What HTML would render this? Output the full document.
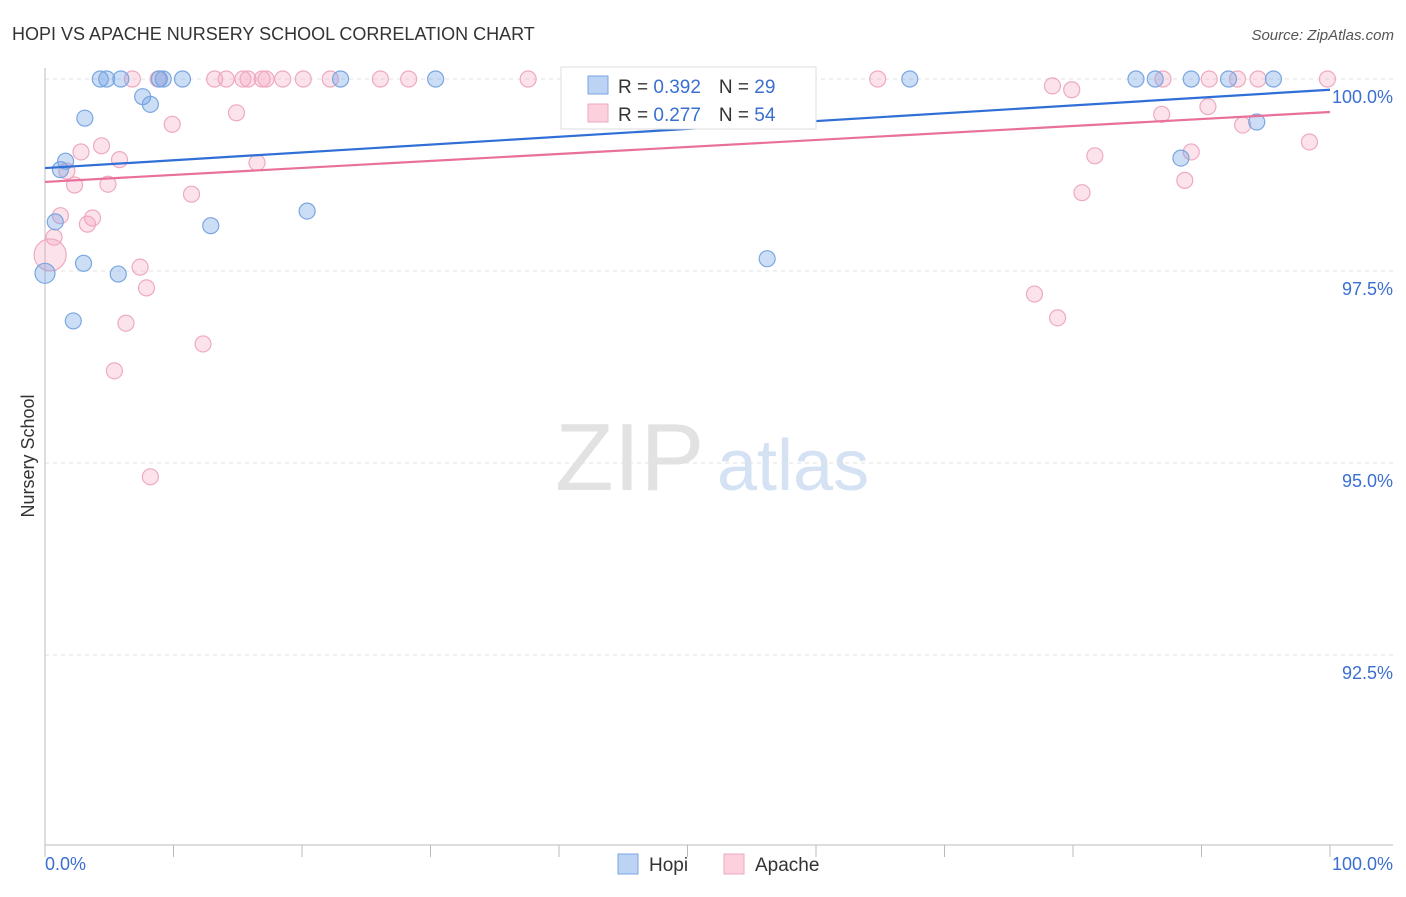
<!DOCTYPE html>
<html><head><meta charset="utf-8"><style>
body{margin:0;background:#fff;font-family:"Liberation Sans",sans-serif;}
svg text{font-family:"Liberation Sans",sans-serif;}
</style></head><body>
<svg id="chart" width="1406" height="892" xmlns="http://www.w3.org/2000/svg">
<text x="12" y="40" font-size="18" fill="#333">HOPI VS APACHE NURSERY SCHOOL CORRELATION CHART</text>
<text x="1394" y="40" font-size="15" fill="#555" font-style="italic" text-anchor="end">Source: ZipAtlas.com</text>
<g>
<text x="555" y="490" font-size="96" fill="#e2e2e2" font-family="Liberation Serif,serif">ZIP</text>
<text x="717" y="490" font-size="72" fill="#d4e2f4">atlas</text>
</g>
<g id="grid"></g>
<g id="axes"></g>
<text x="34" y="456" font-size="18" fill="#333" text-anchor="middle" transform="rotate(-90 34 456)">Nursery School</text>
<g id="pts"></g>
<g id="lines"></g>
<g>
<rect x="561" y="67" width="255" height="62" fill="#fff" stroke="#ddd"/>
<rect x="588" y="76" width="20" height="18" fill="#bcd3f3" stroke="#7aa6e0"/>
<rect x="588" y="104" width="20" height="18" fill="#fcd0dd" stroke="#eeaabf"/>
<text x="618" y="93" font-size="19" fill="#333">R = <tspan fill="#3a6fd0">0.392</tspan><tspan dx="18">N = </tspan><tspan fill="#3a6fd0">29</tspan></text>
<text x="618" y="121" font-size="19" fill="#333">R = <tspan fill="#3a6fd0">0.277</tspan><tspan dx="18">N = </tspan><tspan fill="#3a6fd0">54</tspan></text>
</g>
<g>
<rect x="618" y="854" width="20" height="20" fill="#bcd3f3" stroke="#7aa6e0"/>
<text x="649" y="871" font-size="19" fill="#333">Hopi</text>
<rect x="724" y="854" width="20" height="20" fill="#fcd0dd" stroke="#eeaabf"/>
<text x="755" y="871" font-size="19" fill="#333">Apache</text>
</g>
</svg>
<script>
const hopiX=[4.3,4.8,5.9,8.9,9.2,10.7,23.0,30.4,67.3,84.9,86.4,89.2,92.1,95.6,7.6,8.2,3.1,1.6,1.2,0.8,3.0,5.7,0,2.2,12.9,20.4,56.2,88.4,94.3];
const hopiY=[100,100,100,100,100,100,100,100,100,100,100,100,100,100,99.77,99.67,99.49,98.93,98.82,98.14,97.60,97.46,97.47,96.85,98.09,98.28,97.66,98.97,99.44];
const apacheX=[6.8,8.8,13.2,14.1,15.4,15.8,16.9,17.2,18.5,20.1,22.2,26.1,28.3,37.6,64.8,87.0,90.6,92.8,94.4,99.8,78.4,79.9,14.9,9.9,86.9,90.5,93.2,4.4,2.8,5.8,16.5,81.7,89.2,98.4,1.7,2.3,4.9,11.4,80.7,88.7,3.7,3.3,1.2,0.7,0.4,7.4,7.9,77.0,6.3,78.8,12.3,5.4,8.2];
const apacheY=[100,100,100,100,100,100,100,100,100,100,100,100,100,100,100,100,100,100,100,100,99.91,99.86,99.56,99.41,99.54,99.64,99.40,99.13,99.05,98.95,98.91,99.0,99.05,99.18,98.80,98.62,98.63,98.50,98.52,98.68,98.19,98.11,98.22,97.94,97.71,97.55,97.28,97.20,96.82,96.89,96.55,96.20,94.82];
const yTicks=[100,97.5,95,92.5];
const yTickLabels=["100.0%","97.5%","95.0%","92.5%"];
const xTickLabels=["0.0%","100.0%"];
const hopiTrend=[98.84,99.86];
const apacheTrend=[98.66,99.57];
const NS="http://www.w3.org/2000/svg";
const X0=45,X1=1330,YTOP=79,YMAX=100,YPER=76.8,YBOT=845;
const sx=v=>X0+(X1-X0)*v/100;
const sy=v=>YTOP+(YMAX-v)*YPER;
function mk(tag,attrs,parent){const e=document.createElementNS(NS,tag);for(const k in attrs)e.setAttribute(k,attrs[k]);parent.appendChild(e);return e;}
const grid=document.getElementById('grid'),axes=document.getElementById('axes');
yTicks.forEach((t,i)=>{
 const l=mk('line',{x1:X0,x2:1393,y1:sy(t),y2:sy(t),stroke:'#e2e2e2','stroke-dasharray':'4,4'},grid);
 
 
 const tx=mk('text',{x:1393,y:sy(t)+24,'font-size':18,fill:'#3a6fd0','text-anchor':'end'},axes);
 tx.textContent=yTickLabels[i];
 
 
});
mk('line',{x1:X0,x2:X0,y1:68,y2:YBOT,stroke:'#bbb'},axes);
mk('line',{x1:X0,x2:1393,y1:YBOT,y2:YBOT,stroke:'#bbb'},axes);
for(let i=0;i<=10;i++){const x=sx(i*10);mk('line',{x1:x,x2:x,y1:YBOT,y2:i==0||i==10?YBOT+12:YBOT+12,stroke:'#bbb'},axes);}
[[0,'start',45],[1,'end',1393]].forEach(([i,a,x])=>{const t=mk('text',{x:x,y:870,'font-size':18,fill:'#3a6fd0','text-anchor':a},axes);t.textContent=xTickLabels[i];
 
 });
const pts=document.getElementById('pts');
apacheX.forEach((x,i)=>{const c=mk('circle',{cx:sx(x),cy:sy(apacheY[i]),r:(x<0.5&&apacheY[i]<98)?16:8,fill:'rgba(245,160,190,0.3)',stroke:'#eeaabf','stroke-width':1.2},pts);
 
 });
hopiX.forEach((x,i)=>{const c=mk('circle',{cx:sx(x),cy:sy(hopiY[i]),r:x===0?10:8,fill:'rgba(110,160,230,0.35)',stroke:'#7aa6e0','stroke-width':1.2},pts);
 
 });
const lines=document.getElementById('lines');
const lh=mk('line',{x1:sx(0),y1:sy(hopiTrend[0]),x2:sx(100),y2:sy(hopiTrend[1]),stroke:'#2f6fd6','stroke-width':2.2},lines);


const la=mk('line',{x1:sx(0),y1:sy(apacheTrend[0]),x2:sx(100),y2:sy(apacheTrend[1]),stroke:'#e8709a','stroke-width':2.2},lines);


</script>
</body></html>
